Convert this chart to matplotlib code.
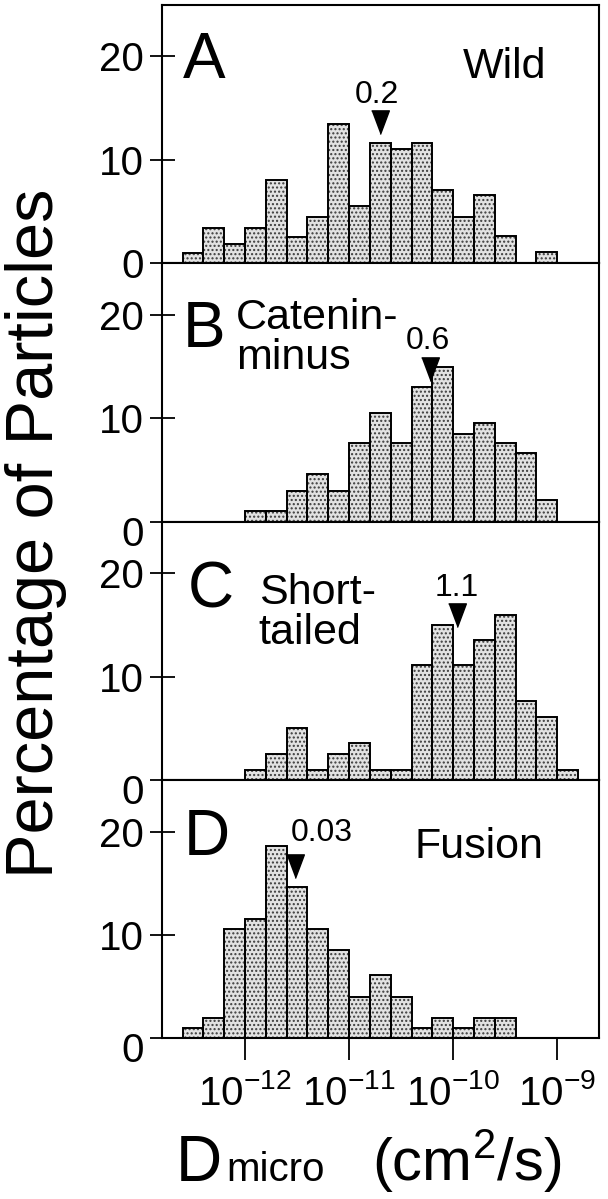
import numpy as np
import matplotlib
matplotlib.use('Agg')
import matplotlib.pyplot as plt
from matplotlib.transforms import ScaledTranslation

plt.rcParams['font.family'] = ['Liberation Sans', 'DejaVu Sans']
plt.rcParams['mathtext.fontset'] = 'custom'
plt.rcParams['mathtext.rm'] = 'Liberation Sans'
plt.rcParams['mathtext.it'] = 'Liberation Sans'
plt.rcParams['mathtext.default'] = 'regular'

# histogram bins are 0.2 decade wide, first left edge given as log10
bin_width = 0.2
wild_start = -12.6
wild = [1, 3.4, 1.9, 3.4, 8.0, 2.5, 4.5, 13.5, 5.5, 11.6, 11.0, 11.6, 7.1, 4.5, 6.6, 2.6, 0, 1.1]
catenin_start = -12.0
catenin = [1, 1, 3.0, 4.6, 3.0, 7.6, 10.5, 7.6, 13.0, 15.0, 8.5, 9.5, 7.6, 6.6, 2.1]
short_start = -12.0
short = [1, 2.5, 5.0, 1, 2.5, 3.6, 1, 1, 11.1, 15.0, 11.1, 13.5, 16.0, 7.6, 6.1, 1.0]
fusion_start = -12.6
fusion = [1, 2, 10.6, 11.5, 18.6, 14.6, 10.6, 8.5, 4.0, 6.1, 4.0, 1, 2, 1, 2, 2]

letters = ['A', 'B', 'C', 'D']
names = ['Wild', 'Catenin-\nminus', 'Short-\ntailed', 'Fusion']
medians = [0.2e-10, 0.6e-10, 1.1e-10, 0.03e-10]  # cm^2/s
median_labels = ['0.2', '0.6', '1.1', '0.03']
arrow_tips = [12.5, 13.6, 14.8, 15.5]

xticks = [1e-12, 1e-11, 1e-10, 1e-9]
xticklabels = ['$10^{-12}$', '$10^{-11}$', '$10^{-10}$', '$10^{-9}$']
yticks = [0, 10, 20]

panels = [(wild_start, wild), (catenin_start, catenin), (short_start, short), (fusion_start, fusion)]

# layout of each panel's text, (x as log10, y in %)
letter_pos = [(-12.39, 19.6), (-12.39, 18.5), (-12.33, 18.3), (-12.37, 19.4)]
name_pos = [(-9.51, 19.0, 'center'), (-12.09, 17.8, 'left'), (-11.87, 16.2, 'left'), (-9.75, 18.5, 'center')]
median_text_pos = [(-10.73, 16.3), (-10.24, 17.5), (-9.97, 18.6), (-11.26, 19.9)]

W, H = 608, 1199
fig = plt.figure(figsize=(W / 100, H / 100), dpi=100)
gs = fig.add_gridspec(4, 1, left=0.266, right=0.985, top=0.996, bottom=0.134, hspace=0)

arrow = [(-0.75, 2), (0.75, 2), (0, 0)]

for i, (start, vals) in enumerate(panels):
    ax = fig.add_subplot(gs[i])
    ax.set_xscale('log')
    logedges = start + bin_width * np.arange(len(vals) + 1)
    edges = 10 ** logedges
    # stippled fill, then black outlines on top
    ax.bar(edges[:-1], vals, width=np.diff(edges), align='edge', facecolor='#e2e2e2',
           edgecolor='#3c3c3c', hatch='....', linewidth=0, zorder=2)
    ax.bar(edges[:-1], vals, width=np.diff(edges), align='edge', fill=False,
           edgecolor='black', linewidth=1.4, zorder=3)

    ax.set_xlim(10 ** -12.8, 10 ** -8.6)
    ax.set_ylim(0, 25)
    ax.set_yticks(yticks)
    ax.set_yticklabels([str(t) for t in yticks], fontsize=29)
    ax.set_xticks(xticks)
    ax.xaxis.set_minor_locator(matplotlib.ticker.NullLocator())
    if i == 3:
        ax.set_xticklabels(xticklabels, fontsize=29)
        for lab in ax.get_xticklabels():
            lab.set_transform(lab.get_transform() + ScaledTranslation(0.17, 0, fig.dpi_scale_trans))
    else:
        ax.set_xticklabels([])
    ax.tick_params(axis='y', direction='inout', length=18, width=1.3, pad=4)
    ax.tick_params(axis='x', direction='out', length=16, width=1.3, pad=10)
    for s in ax.spines.values():
        s.set_linewidth(1.5)
        s.set_zorder(5)
    if i > 0:
        lab0 = ax.get_yticklabels()[0]
        lab0.set_transform(lab0.get_transform() + ScaledTranslation(0, -0.09, fig.dpi_scale_trans))

    lx, ly = letter_pos[i]
    ax.text(10 ** lx, ly, letters[i], fontsize=46, ha='center', va='center')
    nx, ny, nha = name_pos[i]
    ax.text(10 ** nx, ny, names[i], fontsize=31, ha=nha, va='center', linespacing=1.0)
    mx, my = median_text_pos[i]
    ax.text(10 ** mx, my, median_labels[i], fontsize=23, ha='center', va='center')
    ax.plot([medians[i]], [arrow_tips[i]], marker=arrow, markersize=34, color='black',
            linestyle='none', zorder=6, clip_on=False)

fig.text(53 / W, 1 - 533 / H, 'Percentage of Particles', rotation=90, fontsize=48,
         ha='center', va='baseline', rotation_mode='anchor')

# x label: D with "micro" at reduced size on the same baseline
base = 1 - 1181 / H
fig.text(176 / W, base, 'D', fontsize=46, ha='left', va='baseline')
fig.text(226 / W, base, 'micro', fontsize=29, ha='left', va='baseline')
fig.text(372 / W, base, '(cm$^{2}$/s)', fontsize=43, ha='left', va='baseline')

fig.savefig('out.png', dpi=100)
